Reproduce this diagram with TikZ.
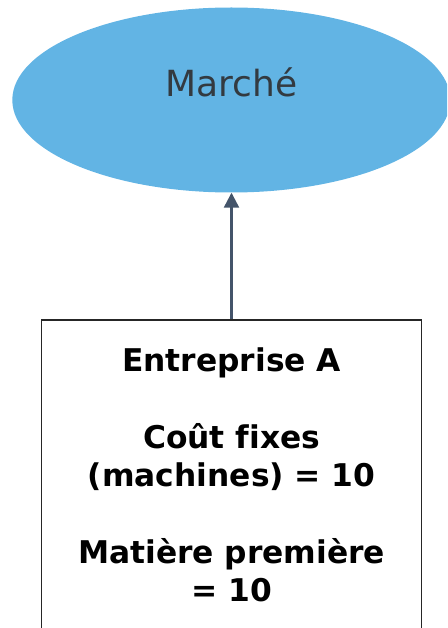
\documentclass[tikz,border=0pt]{standalone}
\usepackage{fontspec}
\setmainfont{DejaVu Sans}[Ligatures=NoCommon]
\usetikzlibrary{shapes.geometric,arrows.meta}
\definecolor{marketblue}{HTML}{62B4E4}
\definecolor{inktext}{HTML}{333A40}
\definecolor{slate}{HTML}{44546A}
\tikzset{
  market/.style={ellipse, fill=marketblue, inner sep=0pt,
    minimum width=438pt, minimum height=185pt,
    text=inktext, font=\fontsize{36}{43}\selectfont,
    text height=27pt, text depth=33pt},
  firmbox/.style={draw=black!85, line width=1.6pt, rectangle, anchor=north,
    minimum width=380pt, minimum height=420pt, inner sep=0pt},
  firmtext/.style={align=center, inner sep=0pt, anchor=base,
    font=\fontsize{31.3}{38.3}\selectfont\bfseries},
  flow/.style={draw=slate, line width=2.3pt,
    -{Triangle[length=15pt,width=15pt]}}
}
\begin{document}
\begin{tikzpicture}[x=1pt,y=-1pt]
  \useasboundingbox (0,0) rectangle (447,628);
  \clip (0,0) rectangle (447,628);
  % market
  \node[market] (mkt) at (231.3,100) {Marché};
  % firm
  \node[firmbox] (firm) at (231.5,319) {};
  % the base anchor sits on the last line of the text
  \node[firmtext] (firmtxt) at (231.7,601.7)
    {Entreprise A\\ \\Coût fixes\\(machines) = 10\\ \\Matière première\\= 10};
  % supply flow
  \draw[flow] (firm.north) -- (firm.north |- mkt.south);
\end{tikzpicture}
\end{document}
